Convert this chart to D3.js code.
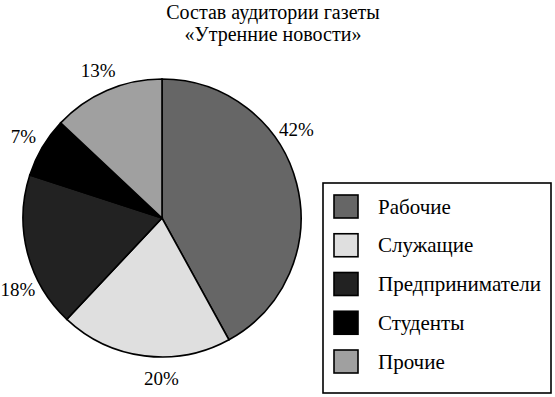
<!DOCTYPE html>
<html>
<head>
<meta charset="utf-8">
<script src="https://cdn.jsdelivr.net/npm/d3@7.9.0/dist/d3.min.js"></script>
<style>
  html, body { margin: 0; padding: 0; background: #fff; }
  svg { display: block; font-family: "Liberation Serif", "Times New Roman", serif; }
</style>
</head>
<body>
<svg id="chart" width="555" height="397"></svg>
<script>
// data
const categories = ['Рабочие', 'Служащие', 'Предприниматели', 'Студенты', 'Прочие'];
const shares = [42, 20, 18, 7, 13];
const fills = ['#666666', '#dfdfdf', '#222222', '#000000', '#a0a0a0'];
const titleLines = ['Состав аудитории газеты', '«Утренние новости»'];

const width = 555, height = 397;
const cx = 162, cy = 218, radius = 139;

// labels on the original are nudged off the slice middle for a few slices
const labelShift = { 'Рабочие': -19, 'Служащие': -7, 'Предприниматели': -12 }; // degrees
const labelRadius = 161;

const svg = d3.select('#chart');

// title
svg.append('g')
  .selectAll('text')
  .data(titleLines)
  .enter()
  .append('text')
  .attr('x', 273)
  .attr('y', (d, i) => 19 + i * 22)
  .attr('text-anchor', 'middle')
  .style('font-size', '20px')
  .text(d => d);

let pieData = categories.map((c, i) => ({ label: c, value: shares[i], color: fills[i] }));

let pie = d3.pie().value(d => d.value).sort(null);
let arc = d3.arc().innerRadius(0).outerRadius(radius);

let g = svg.append('g').attr('transform', `translate(${cx}, ${cy})`);

g.selectAll('path')
  .data(pie(pieData))
  .enter()
  .append('path')
  .attr('d', arc)
  .attr('fill', d => d.data.color)
  .attr('stroke', '#000')
  .style('stroke-width', '1.6px');

// percentage labels
function labelAngle(d) {
  return (d.startAngle + d.endAngle) / 2 + (labelShift[d.data.label] || 0) * Math.PI / 180;
}

g.selectAll('text')
  .data(pie(pieData))
  .enter()
  .append('text')
  .attr('x', d => labelRadius * Math.sin(labelAngle(d)))
  .attr('y', d => -labelRadius * Math.cos(labelAngle(d)))
  .attr('text-anchor', 'middle')
  .attr('dominant-baseline', 'central')
  .style('font-size', '19px')
  .text(d => d.data.value + '%');

// legend
let legend = svg.append('g');
legend.append('rect')
  .attr('x', 323)
  .attr('y', 183)
  .attr('width', 228)
  .attr('height', 210)
  .attr('fill', 'none')
  .attr('stroke', '#000')
  .style('stroke-width', '1.6px');

let rowY = d3.scalePoint().domain(categories).range([206.5, 361.5]);

let rows = legend.selectAll('g.row')
  .data(pieData)
  .enter()
  .append('g')
  .attr('class', 'row')
  .attr('transform', d => `translate(0, ${rowY(d.label)})`);

rows.append('rect')
  .attr('x', 334)
  .attr('y', -11.5)
  .attr('width', 24)
  .attr('height', 23)
  .attr('fill', d => d.color)
  .attr('stroke', '#000')
  .style('stroke-width', '1.6px');

rows.append('text')
  .attr('x', 378)
  .attr('y', 0)
  .attr('dominant-baseline', 'central')
  .style('font-size', '21px')
  .text(d => d.label);
</script>
</body>
</html>
